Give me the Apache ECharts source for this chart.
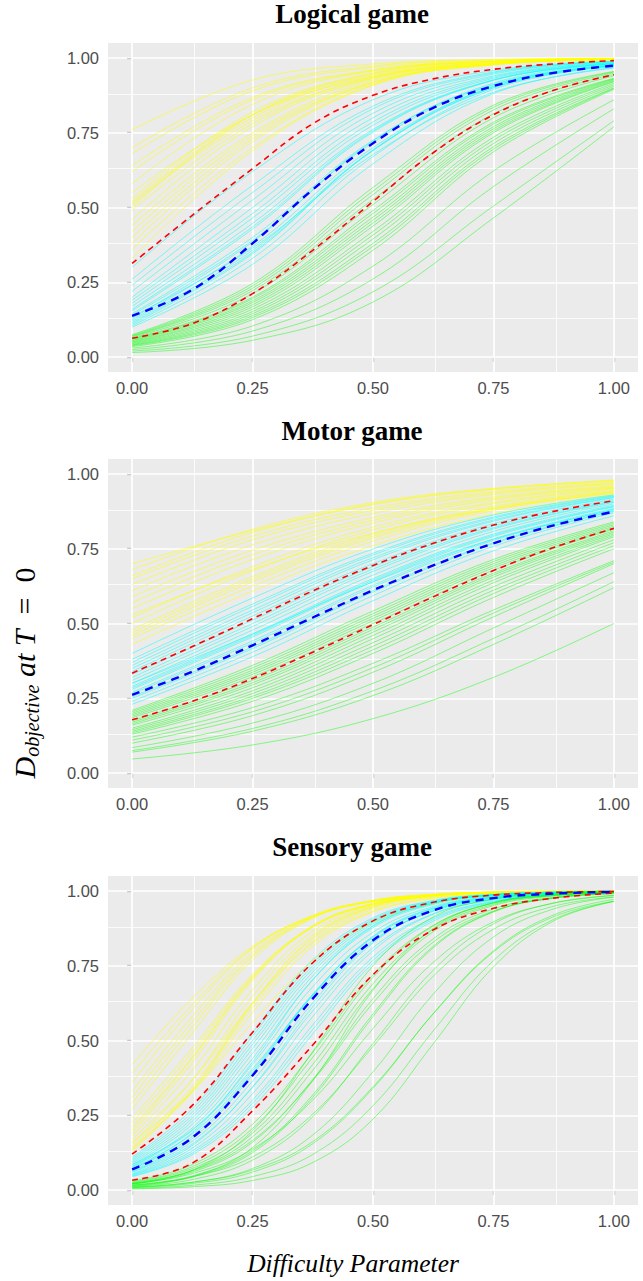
<!DOCTYPE html>
<html><head><meta charset="utf-8">
<script src="https://cdn.jsdelivr.net/npm/echarts@6/dist/echarts.min.js"></script>
<style>html,body{margin:0;padding:0;background:#fff}#c{width:643px;height:1281px}</style>
</head><body><div id="c"></div>
<script>
// ---------- axes / labels ----------
const panelTitles = ['Logical game', 'Motor game', 'Sensory game'];
const tickValues = [0, 0.25, 0.5, 0.75, 1];
const minorValues = [0.125, 0.375, 0.625, 0.875];
const xs5 = [0, 0.25, 0.5, 0.75, 1];
const xs9 = [0, 0.125, 0.25, 0.375, 0.5, 0.625, 0.75, 0.875, 1];

// ---------- Logical game (thin curves at xs5, dashed at xs9) ----------
const logicalYellow = [
  [0.76,0.926,0.98,0.995,0.999],[0.70,0.90,0.973,0.993,0.998],[0.64,0.868,0.96,0.989,0.997],
  [0.58,0.845,0.956,0.988,0.997],[0.52,0.81,0.944,0.985,0.996],[0.51,0.79,0.933,0.981,0.995],
  [0.50,0.81,0.948,0.987,0.997],[0.46,0.77,0.93,0.981,0.995],[0.42,0.74,0.919,0.978,0.994],
  [0.38,0.72,0.915,0.978,0.995],[0.33,0.69,0.908,0.978,0.995],[0.55,0.81,0.937,0.981,0.994],
  [0.53,0.82,0.95,0.987,0.997],[0.515,0.80,0.94,0.984,0.996],[0.49,0.78,0.935,0.983,0.996],
  [0.44,0.75,0.925,0.98,0.995],[0.40,0.73,0.918,0.978,0.995],[0.36,0.70,0.91,0.977,0.994],
  [0.68,0.89,0.968,0.991,0.998],[0.62,0.86,0.958,0.989,0.997]
];
const logicalCyan = [
  [0.30,0.62,0.86,0.958,0.989],[0.26,0.574,0.839,0.953,0.987],[0.22,0.525,0.815,0.946,0.986],
  [0.19,0.48,0.786,0.936,0.983],[0.17,0.447,0.761,0.927,0.98],[0.155,0.428,0.752,0.925,0.98],
  [0.14,0.39,0.717,0.91,0.975],[0.13,0.385,0.723,0.916,0.979],[0.12,0.357,0.692,0.901,0.974],
  [0.11,0.345,0.692,0.905,0.976],[0.10,0.31,0.646,0.881,0.968],[0.135,0.364,0.677,0.885,0.966],
  [0.145,0.40,0.725,0.912,0.976],[0.16,0.435,0.756,0.926,0.98],[0.125,0.37,0.70,0.905,0.975],
  [0.115,0.35,0.69,0.90,0.974],[0.18,0.465,0.775,0.932,0.982],[0.24,0.55,0.83,0.95,0.987],
  [0.20,0.50,0.80,0.94,0.984],[0.105,0.33,0.67,0.895,0.972]
];
const logicalGreen = [
  [0.075,0.246,0.567,0.842,0.955],[0.07,0.23,0.543,0.826,0.95],[0.065,0.212,0.51,0.80,0.94],
  [0.06,0.195,0.48,0.779,0.93],[0.055,0.182,0.458,0.763,0.925],[0.05,0.168,0.438,0.75,0.92],
  [0.045,0.152,0.408,0.725,0.91],[0.04,0.138,0.38,0.703,0.90],[0.035,0.125,0.357,0.686,0.895],
  [0.03,0.104,0.304,0.622,0.86],[0.025,0.087,0.261,0.57,0.83],[0.02,0.07,0.218,0.505,0.79],
  [0.015,0.056,0.184,0.465,0.77],
  [0.072,0.238,0.555,0.835,0.953],[0.068,0.222,0.527,0.813,0.945],[0.062,0.20,0.49,0.785,0.932],
  [0.057,0.188,0.468,0.77,0.928],[0.052,0.175,0.448,0.756,0.922],[0.047,0.16,0.42,0.735,0.915],
  [0.042,0.145,0.395,0.714,0.905],[0.038,0.132,0.37,0.695,0.898]
];
const logicalRedHigh = [0.313,0.474,0.63,0.78,0.875,0.93,0.962,0.98,0.991];
const logicalBlue    = [0.138,0.225,0.38,0.56,0.715,0.833,0.906,0.95,0.974];
const logicalRedLow  = [0.063,0.112,0.212,0.357,0.52,0.683,0.81,0.892,0.944];

// ---------- Motor game ----------
const motorYellow = [
  [0.70,0.81,0.90,0.95,0.98],[0.66,0.804,0.897,0.948,0.975],[0.65,0.792,0.886,0.941,0.97],
  [0.61,0.763,0.868,0.931,0.965],[0.59,0.745,0.854,0.923,0.96],[0.55,0.714,0.836,0.913,0.955],
  [0.50,0.676,0.813,0.90,0.95],[0.48,0.657,0.799,0.892,0.945],[0.46,0.639,0.785,0.883,0.94],
  [0.43,0.608,0.76,0.866,0.93],[0.53,0.681,0.802,0.884,0.935],
  [0.45,0.625,0.775,0.878,0.937],[0.47,0.648,0.792,0.887,0.942],[0.52,0.69,0.822,0.905,0.952],
  [0.57,0.73,0.845,0.918,0.957],[0.63,0.78,0.878,0.936,0.968],[0.68,0.815,0.905,0.952,0.977]
];
const motorCyan = [
  [0.40,0.585,0.749,0.863,0.93],[0.37,0.557,0.729,0.852,0.925],[0.35,0.536,0.713,0.842,0.92],
  [0.33,0.511,0.69,0.826,0.91],[0.31,0.49,0.674,0.816,0.905],[0.29,0.465,0.65,0.799,0.895],
  [0.28,0.455,0.64,0.791,0.89],[0.27,0.442,0.628,0.782,0.885],[0.25,0.416,0.605,0.767,0.875],
  [0.24,0.404,0.593,0.758,0.87],[0.23,0.389,0.576,0.743,0.86],[0.30,0.465,0.639,0.782,0.88],
  [0.34,0.525,0.70,0.834,0.915],[0.32,0.50,0.682,0.82,0.907],[0.30,0.478,0.662,0.808,0.90],
  [0.285,0.46,0.645,0.795,0.892],[0.265,0.435,0.622,0.778,0.882],[0.255,0.422,0.61,0.77,0.877],
  [0.36,0.545,0.72,0.846,0.922],[0.38,0.565,0.735,0.856,0.927]
];
const motorGreen = [
  [0.21,0.36,0.542,0.714,0.84],[0.20,0.344,0.525,0.70,0.83],[0.19,0.33,0.509,0.686,0.82],
  [0.175,0.31,0.488,0.668,0.81],[0.165,0.295,0.471,0.655,0.80],[0.15,0.275,0.449,0.636,0.79],
  [0.14,0.257,0.424,0.611,0.77],[0.13,0.24,0.40,0.587,0.75],[0.12,0.219,0.367,0.545,0.71],
  [0.10,0.192,0.337,0.522,0.70],[0.085,0.167,0.30,0.485,0.67],[0.075,0.149,0.275,0.45,0.64],
  [0.07,0.14,0.259,0.43,0.62],[0.047,0.094,0.182,0.32,0.50],
  [0.205,0.352,0.533,0.707,0.835],[0.195,0.337,0.517,0.693,0.825],[0.185,0.322,0.50,0.678,0.816],
  [0.17,0.302,0.48,0.662,0.805],[0.16,0.285,0.46,0.645,0.795],[0.145,0.266,0.436,0.623,0.78],
  [0.135,0.25,0.412,0.60,0.76],[0.11,0.205,0.352,0.535,0.705]
];
const motorRedHigh = [0.334,0.423,0.516,0.609,0.694,0.768,0.829,0.875,0.911];
const motorBlue    = [0.261,0.339,0.427,0.52,0.611,0.694,0.768,0.828,0.874];
const motorRedLow  = [0.178,0.24,0.316,0.404,0.496,0.589,0.677,0.754,0.818];

// ---------- Sensory game (all at xs9) ----------
const sensoryYellow = [
  [0.42,0.641,0.815,0.915,0.964,0.985,0.994,0.997,0.999],
  [0.36,0.605,0.806,0.919,0.968,0.988,0.996,0.998,0.999],
  [0.31,0.562,0.786,0.913,0.968,0.988,0.996,0.999,1.0],
  [0.27,0.525,0.769,0.909,0.968,0.989,0.996,0.999,1.0],
  [0.24,0.475,0.721,0.881,0.955,0.984,0.994,0.998,0.999],
  [0.21,0.445,0.707,0.879,0.956,0.985,0.995,0.998,0.999],
  [0.19,0.426,0.70,0.881,0.959,0.987,0.996,0.999,1.0],
  [0.17,0.368,0.625,0.826,0.932,0.975,0.991,0.997,0.999],
  [0.155,0.368,0.648,0.853,0.948,0.983,0.995,0.998,0.999],
  [0.14,0.327,0.594,0.815,0.93,0.975,0.992,0.997,0.999],
  [0.13,0.332,0.622,0.846,0.948,0.984,0.995,0.998,1.0],
  [0.16,0.33,0.56,0.767,0.895,0.956,0.983,0.993,0.997],
  [0.145,0.345,0.625,0.84,0.945,0.982,0.994,0.998,0.999],
  [0.135,0.335,0.61,0.83,0.94,0.98,0.994,0.998,0.999],
  [0.18,0.40,0.67,0.865,0.952,0.985,0.995,0.998,0.999],
  [0.20,0.44,0.71,0.885,0.958,0.986,0.996,0.999,1.0],
  [0.225,0.46,0.715,0.88,0.955,0.985,0.995,0.998,0.999],
  [0.29,0.545,0.78,0.91,0.967,0.988,0.996,0.999,1.0],
  [0.33,0.58,0.795,0.915,0.967,0.988,0.996,0.998,0.999],
  [0.39,0.62,0.81,0.915,0.965,0.986,0.995,0.998,0.999]
];
const sensoryCyan = [
  [0.11,0.271,0.527,0.77,0.91,0.968,0.989,0.996,0.999],
  [0.10,0.25,0.50,0.75,0.90,0.964,0.988,0.996,0.999],
  [0.09,0.23,0.473,0.729,0.89,0.96,0.986,0.995,0.998],
  [0.08,0.208,0.44,0.703,0.877,0.955,0.985,0.995,0.998],
  [0.075,0.188,0.399,0.655,0.844,0.939,0.978,0.992,0.997],
  [0.065,0.172,0.385,0.652,0.849,0.944,0.981,0.993,0.998],
  [0.06,0.154,0.343,0.599,0.81,0.924,0.972,0.99,0.997],
  [0.055,0.149,0.345,0.613,0.826,0.935,0.977,0.992,0.997],
  [0.05,0.131,0.301,0.552,0.779,0.91,0.966,0.988,0.996],
  [0.045,0.118,0.277,0.522,0.758,0.899,0.962,0.986,0.995],
  [0.085,0.201,0.406,0.65,0.835,0.932,0.974,0.99,0.996],
  [0.07,0.192,0.428,0.703,0.882,0.959,0.987,0.996,0.999],
  [0.105,0.26,0.515,0.76,0.905,0.966,0.988,0.996,0.999],
  [0.095,0.24,0.487,0.74,0.895,0.962,0.987,0.995,0.998],
  [0.085,0.22,0.457,0.716,0.884,0.958,0.986,0.995,0.998],
  [0.07,0.18,0.392,0.654,0.847,0.942,0.98,0.993,0.998],
  [0.062,0.163,0.364,0.626,0.83,0.934,0.976,0.992,0.997],
  [0.052,0.14,0.322,0.58,0.80,0.922,0.97,0.99,0.996],
  [0.047,0.124,0.29,0.537,0.768,0.905,0.964,0.987,0.995],
  [0.078,0.20,0.42,0.68,0.862,0.948,0.982,0.994,0.998]
];
const sensoryGreen = [
  [0.027,0.078,0.206,0.444,0.711,0.883,0.959,0.986,0.995],
  [0.022,0.066,0.178,0.40,0.673,0.864,0.951,0.983,0.995],
  [0.023,0.064,0.166,0.366,0.625,0.829,0.933,0.976,0.992],
  [0.016,0.047,0.131,0.318,0.589,0.815,0.931,0.977,0.992],
  [0.021,0.055,0.137,0.301,0.54,0.761,0.897,0.959,0.985],
  [0.017,0.044,0.111,0.254,0.48,0.715,0.872,0.949,0.98],
  [0.009,0.026,0.072,0.184,0.395,0.655,0.846,0.94,0.979],
  [0.010,0.026,0.067,0.162,0.345,0.589,0.796,0.914,0.966],
  [0.006,0.016,0.045,0.119,0.282,0.532,0.767,0.905,0.965],
  [0.004,0.011,0.032,0.092,0.237,0.489,0.746,0.90,0.965],
  [0.013,0.045,0.142,0.366,0.668,0.875,0.961,0.988,0.997],
  [0.020,0.066,0.198,0.463,0.75,0.913,0.973,0.992,0.998],
  [0.03,0.085,0.22,0.46,0.72,0.885,0.96,0.986,0.995],
  [0.025,0.072,0.19,0.42,0.69,0.872,0.955,0.985,0.995],
  [0.02,0.06,0.16,0.37,0.64,0.84,0.94,0.979,0.993],
  [0.015,0.044,0.125,0.31,0.58,0.81,0.93,0.976,0.991],
  [0.012,0.035,0.10,0.245,0.49,0.735,0.89,0.96,0.985],
  [0.008,0.022,0.06,0.155,0.34,0.59,0.80,0.92,0.972]
];
const sensoryRedHigh = [0.12,0.283,0.527,0.76,0.90,0.962,0.986,0.995,0.998];
const sensoryBlue    = [0.069,0.175,0.383,0.64,0.835,0.935,0.976,0.991,0.997];
const sensoryRedLow  = [0.033,0.09,0.265,0.485,0.72,0.87,0.942,0.976,0.993];

// ---------- build ----------
const panels = [
  {xsThin: xs5, yellow: logicalYellow, cyan: logicalCyan, green: logicalGreen, redHi: logicalRedHigh, blue: logicalBlue, redLo: logicalRedLow},
  {xsThin: xs5, yellow: motorYellow, cyan: motorCyan, green: motorGreen, redHi: motorRedHigh, blue: motorBlue, redLo: motorRedLow},
  {xsThin: xs9, yellow: sensoryYellow, cyan: sensoryCyan, green: sensoryGreen, redHi: sensoryRedHigh, blue: sensoryBlue, redLo: sensoryRedLow}
];
const gridTops = [43, 459, 876];
const GRID_H = 329;
const pair = (xs, ys) => xs.map((x, i) => [x, ys[i]]);

const grids = [], xAxes = [], yAxes = [], series = [];
const labelFont = {color: '#4D4D4D', fontSize: 16.5, fontFamily: 'Liberation Sans, Arial, sans-serif'};
panels.forEach((p, k) => {
  grids.push({left: 108, width: 530, top: gridTops[k], height: GRID_H, show: true, backgroundColor: '#EBEBEB', borderWidth: 0, containLabel: false});
  const axisCommon = {
    gridIndex: k, type: 'value', min: -0.05, max: 1.05,
    axisLine: {show: false},
    axisTick: {show: true, customValues: tickValues, length: 5, lineStyle: {color: '#333333', width: 1.1}},
    splitLine: {show: false}
  };
  xAxes.push(Object.assign({}, axisCommon, {
    axisLabel: Object.assign({customValues: tickValues, formatter: v => v.toFixed(2), margin: 7}, labelFont)
  }));
  yAxes.push(Object.assign({}, axisCommon, {
    axisLabel: Object.assign({customValues: tickValues, formatter: v => v.toFixed(2), margin: 9}, labelFont)
  }));
  // panel grid lines drawn through the axes' scales
  const gl = [];
  tickValues.forEach(v => { gl.push({xAxis: v, lineStyle: {color: '#FFFFFF', width: 1.7, type: 'solid'}}); gl.push({yAxis: v, lineStyle: {color: '#FFFFFF', width: 1.7, type: 'solid'}}); });
  minorValues.forEach(v => { gl.push({xAxis: v, lineStyle: {color: '#FFFFFF', width: 0.8, type: 'solid'}}); gl.push({yAxis: v, lineStyle: {color: '#FFFFFF', width: 0.8, type: 'solid'}}); });
  series.push({type: 'line', xAxisIndex: k, yAxisIndex: k, data: [], z: 1, silent: true,
    markLine: {z: 1, silent: true, symbol: ['none', 'none'], label: {show: false}, emphasis: {disabled: true}, animation: false, data: gl}});
  const thin = (arr, color, op) => arr.forEach(ys => series.push({
    type: 'line', xAxisIndex: k, yAxisIndex: k, data: pair(p.xsThin, ys), smooth: 0.4, symbol: 'none', showSymbol: false,
    silent: true, z: 3, lineStyle: {color: color, width: 1.0, opacity: op}
  }));
  thin(p.yellow, '#FFFF00', 0.55);
  thin(p.cyan, '#00FFFF', 0.5);
  thin(p.green, '#00FF00', 0.45);
  const dashed = (ys, color, w, dash) => series.push({
    type: 'line', xAxisIndex: k, yAxisIndex: k, data: pair(xs9, ys), smooth: 0.4, symbol: 'none', showSymbol: false,
    silent: true, z: 4, lineStyle: {color: color, width: w, type: dash}
  });
  dashed(p.redHi, '#FF0000', 1.6, [6, 4.5]);
  dashed(p.redLo, '#FF0000', 1.6, [6, 4.5]);
  dashed(p.blue, '#0000FF', 2.4, [8, 6]);
});

const titleY = [14, 430.5, 847];
const graphic = panelTitles.map((t, k) => ({
  type: 'text', x: 352, y: titleY[k], silent: true,
  style: {text: t, font: 'bold 27px "Liberation Serif"', fill: '#000', align: 'center', verticalAlign: 'middle'}
}));
graphic.push({type: 'text', x: 353, y: 1263, silent: true,
  style: {text: 'Difficulty Parameter', font: 'italic 25.5px "Liberation Serif"', fill: '#000', align: 'center', verticalAlign: 'middle'}});
graphic.push({type: 'text', x: 24, y: 673, rotation: Math.PI / 2, silent: true,
  style: {
    text: '{D|D}{s|objective}{m| at }{m|T}{r|  =  0}',
    align: 'center', verticalAlign: 'middle',
    rich: {
      D: {fontFamily: 'Liberation Serif', fontStyle: 'italic', fontSize: 30, lineHeight: 36, verticalAlign: 'middle', fill: '#000'},
      s: {fontFamily: 'Liberation Serif', fontStyle: 'italic', fontSize: 20, lineHeight: 36, verticalAlign: 'bottom', fill: '#000'},
      m: {fontFamily: 'Liberation Serif', fontStyle: 'italic', fontSize: 30, lineHeight: 36, verticalAlign: 'middle', fill: '#000'},
      r: {fontFamily: 'Liberation Serif', fontSize: 30, lineHeight: 36, verticalAlign: 'middle', fill: '#000'}
    }
  }});

const chart = echarts.init(document.getElementById('c'), null, {renderer: 'svg'});
chart.setOption({
  animation: false,
  backgroundColor: '#FFFFFF',
  grid: grids, xAxis: xAxes, yAxis: yAxes, series: series, graphic: graphic
});
</script></body></html>
